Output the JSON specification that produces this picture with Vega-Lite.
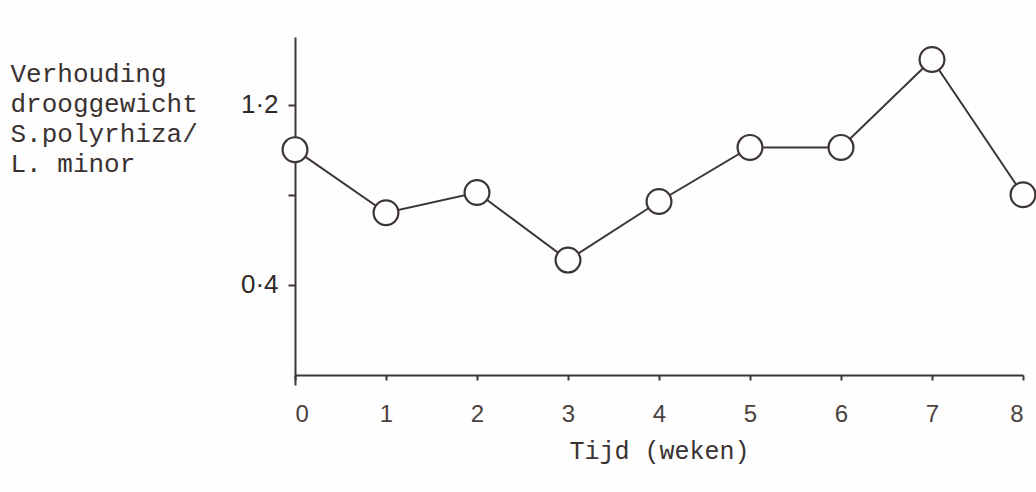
{
  "$schema": "https://vega.github.io/schema/vega-lite/v6.json",
  "width": 728,
  "height": 348,
  "autosize": {"type": "none"},
  "padding": {"left": 295, "top": 37, "right": 13, "bottom": 107},
  "background": "#fefefe",
  "config": {
    "view": {"stroke": null},
    "axis": {"grid": false, "domainColor": "#3d3533", "tickColor": "#3d3533", "domainWidth": 2, "tickWidth": 2}
  },
  "data": {
    "values": [
      {"week": 0, "ratio": 1.0},
      {"week": 1, "ratio": 0.72},
      {"week": 2, "ratio": 0.81},
      {"week": 3, "ratio": 0.51},
      {"week": 4, "ratio": 0.77},
      {"week": 5, "ratio": 1.01},
      {"week": 6, "ratio": 1.01},
      {"week": 7, "ratio": 1.4},
      {"week": 8, "ratio": 0.8}
    ]
  },
  "encoding": {
    "x": {
      "field": "week",
      "type": "quantitative",
      "scale": {"domain": [0, 8], "nice": false, "zero": false},
      "axis": {
        "values": [0, 1, 2, 3, 4, 5, 6, 7, 8],
        "format": "d",
        "offset": -10,
        "tickSize": 5,
        "labelPadding": 22,
        "labelFont": "Liberation Sans",
        "labelFontSize": 24,
        "labelColor": "#4a4240",
        "title": "Tijd (weken)",
        "titleFont": "Liberation Mono",
        "titleFontSize": 25,
        "titleFontWeight": "normal",
        "titleColor": "#3a3232",
        "titlePadding": 12
      }
    },
    "y": {
      "field": "ratio",
      "type": "quantitative",
      "scale": {"domain": [-0.0444, 1.5], "nice": false, "zero": false},
      "axis": {
        "values": [0.4, 0.8, 1.2],
        "labelExpr": "datum.value == 1.2 ? '1·2' : datum.value == 0.4 ? '0·4' : ''",
        "tickSize": 7,
        "labelPadding": 10,
        "labelFont": "Liberation Sans",
        "labelFontSize": 26,
        "labelColor": "#2f2828",
        "title": ["Verhouding", "drooggewicht", "S.polyrhiza/", "L. minor"],
        "titleAngle": 0,
        "titleAlign": "left",
        "titleBaseline": "alphabetic",
        "titleX": -285,
        "titleY": 44,
        "titleFont": "Liberation Mono",
        "titleFontSize": 26,
        "titleFontWeight": "normal",
        "titleLineHeight": 30,
        "titleColor": "#3a3232"
      }
    }
  },
  "layer": [
    {"mark": {"type": "line", "color": "#3d3533", "strokeWidth": 2}},
    {"mark": {"type": "point", "shape": "circle", "filled": true, "fill": "#fefefe", "stroke": "#3d3533", "strokeWidth": 2.2, "size": 616, "opacity": 1}}
  ]
}
